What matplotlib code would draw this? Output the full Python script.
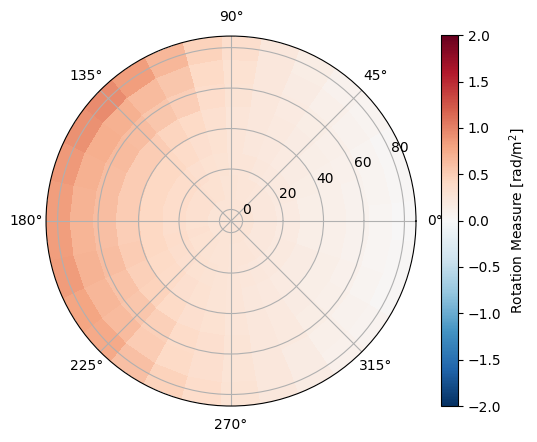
#!/usr/bin/env python3

import numpy as np
import matplotlib
matplotlib.use("Agg")
import matplotlib.pyplot as plt


# bin centres: 30 angles (0..360 deg) and 8 radii (0..80)
theta_deg = np.linspace(0, 360, 30)
radius = np.linspace(0, 80, 8)

# rotation measure per ring (inner -> outer)
rm_r00 = [0.27] * 30
rm_r11 = [0.22, 0.22, 0.23, 0.23, 0.24, 0.25, 0.26, 0.27, 0.28, 0.30,
          0.31, 0.32, 0.32, 0.32, 0.32, 0.31, 0.32, 0.31, 0.31, 0.29,
          0.28, 0.27, 0.26, 0.26, 0.25, 0.24, 0.23, 0.23, 0.22, 0.22]
rm_r23 = [0.18, 0.18, 0.19, 0.20, 0.21, 0.23, 0.25, 0.26, 0.29, 0.31,
          0.34, 0.36, 0.37, 0.36, 0.36, 0.35, 0.36, 0.35, 0.34, 0.31,
          0.29, 0.27, 0.25, 0.24, 0.22, 0.21, 0.20, 0.19, 0.18, 0.18]
rm_r34 = [0.14, 0.14, 0.15, 0.17, 0.18, 0.21, 0.23, 0.26, 0.30, 0.34,
          0.38, 0.42, 0.42, 0.42, 0.42, 0.41, 0.42, 0.40, 0.38, 0.34,
          0.30, 0.28, 0.26, 0.23, 0.21, 0.18, 0.17, 0.16, 0.14, 0.14]
rm_r46 = [0.11, 0.11, 0.12, 0.14, 0.16, 0.19, 0.22, 0.26, 0.32, 0.40,
          0.45, 0.50, 0.51, 0.50, 0.50, 0.49, 0.50, 0.48, 0.46, 0.40,
          0.34, 0.30, 0.26, 0.22, 0.20, 0.17, 0.14, 0.13, 0.11, 0.11]
rm_r57 = [0.08, 0.08, 0.10, 0.11, 0.15, 0.18, 0.23, 0.29, 0.37, 0.49,
          0.56, 0.62, 0.64, 0.62, 0.61, 0.60, 0.62, 0.59, 0.56, 0.48,
          0.38, 0.33, 0.28, 0.23, 0.20, 0.15, 0.11, 0.10, 0.08, 0.08]
rm_r69 = [0.04, 0.05, 0.06, 0.08, 0.11, 0.16, 0.22, 0.30, 0.40, 0.55,
          0.63, 0.71, 0.73, 0.71, 0.70, 0.68, 0.70, 0.66, 0.63, 0.51,
          0.40, 0.33, 0.27, 0.22, 0.17, 0.12, 0.08, 0.06, 0.04, 0.04]
rm_r80 = [0.00, 0.02, 0.02, 0.05, 0.08, 0.15, 0.23, 0.35, 0.46, 0.66,
          0.83, 0.95, 0.91, 0.87, 0.83, 0.83, 0.85, 0.79, 0.76, 0.60,
          0.46, 0.37, 0.29, 0.23, 0.17, 0.10, 0.07, 0.03, 0.02, 0.00]

cbar_ticks = [-2.0, -1.5, -1.0, -0.5, 0.0, 0.5, 1.0, 1.5, 2.0]


def main():
    rm = np.array([rm_r00, rm_r11, rm_r23, rm_r34, rm_r46, rm_r57, rm_r69, rm_r80])
    th, rr = np.meshgrid(np.deg2rad(theta_deg), radius)

    fig = plt.figure(figsize=(5.37, 4.42), dpi=100)
    ax = fig.add_axes([0.0857, 0.0814, 0.689, 0.837], projection="polar")
    mesh = ax.pcolormesh(th, rr, rm, cmap="RdBu_r", vmin=-2, vmax=2,
                         shading="nearest")
    dr = radius[1] - radius[0]
    ax.set_ylim(radius[0] - dr / 2, radius[-1] + dr / 2)
    ax.set_rticks([0, 20, 40, 60, 80])
    ax.grid(True)

    cax = fig.add_axes([0.821, 0.0814, 0.0317, 0.839])
    cb = fig.colorbar(mesh, cax=cax, ticks=cbar_ticks)
    cb.set_label("Rotation Measure [rad/m$^2$]")

    fig.savefig("out.png", dpi=100)


if __name__ == "__main__":
    main()
